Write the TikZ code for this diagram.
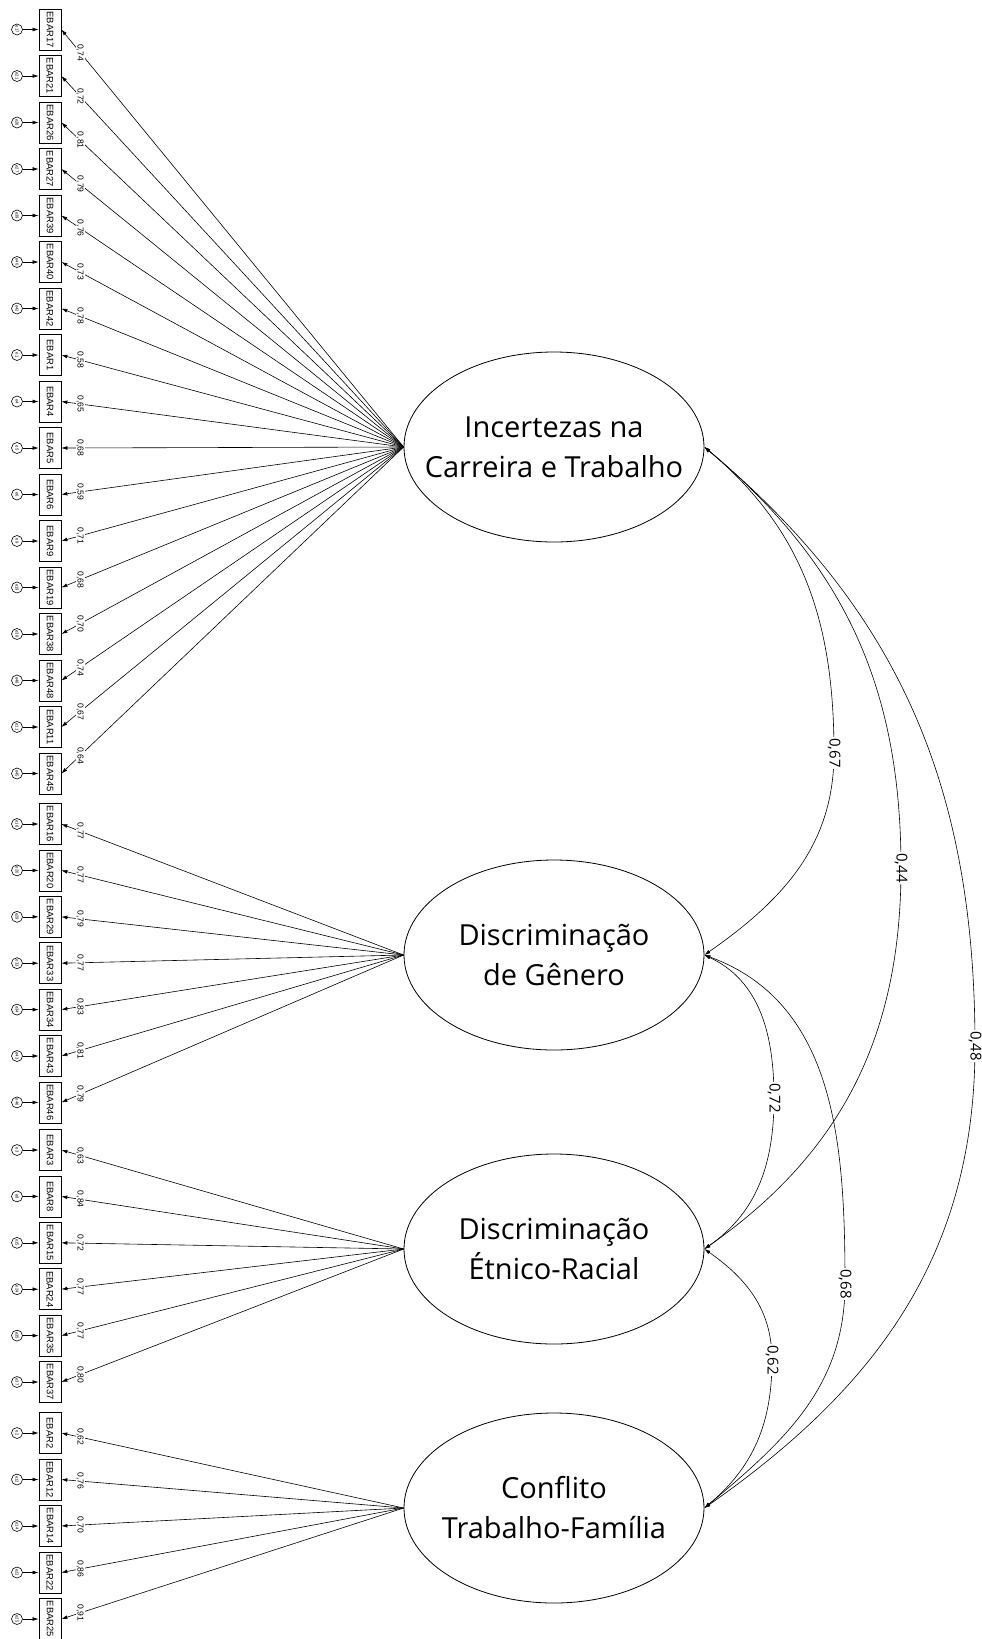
\documentclass[tikz,border=0pt]{standalone}
\usepackage{fontspec}
\setmainfont{Liberation Sans}
\newfontfamily\latfont{Open Sans}
\usetikzlibrary{shapes.geometric,arrows.meta}
\tikzset{
  lat/.style={draw,ellipse,line width=0.8pt,minimum width=300pt,minimum height=190pt,
    inner xsep=-25pt,inner ysep=0pt,align=center,font=\latfont\fontsize{29}{40}\selectfont},
  ind/.style={draw,rectangle,line width=0.7pt,minimum width=22pt,minimum height=41pt,
    inner sep=0pt,font=\fontsize{9.4}{10}\selectfont},
  err/.style={draw,circle,line width=0.6pt,minimum size=11pt,inner sep=0pt,
    font=\fontsize{4.2}{5}\selectfont},
  load/.style={fill=white,inner sep=1pt,font=\fontsize{8.6}{9}\selectfont},
  cor/.style={fill=white,inner sep=1.5pt,font=\latfont\fontsize{15}{16}\selectfont},
}
\begin{document}
\begin{tikzpicture}[x=1pt,y=-1pt,>={Latex[length=6pt,width=3.8pt]},line width=0.6pt]
\useasboundingbox (0,0) rectangle (982,1639);
% latent factors
\node[lat] (inc) at (554,447) {Incertezas na\\Carreira e Trabalho};
\node[lat] (gen) at (554,955) {Discriminação\\de Gênero};
\node[lat] (etn) at (554,1249) {Discriminação\\Étnico-Racial};
\node[lat] (cfl) at (554,1508) {Conflito\\Trabalho-Família};
% indicators of each factor
\foreach \k/\v [count=\i from 0] in {17/74,21/72,26/81,27/79,39/76,40/73,42/78,1/58,4/65,
    5/68,6/59,9/71,19/68,38/70,48/74,11/67,45/64} {
  \node[ind] (b\k) at (50,29.5+46.5*\i) {\rotatebox{-90}{EBAR\k}};
  \node[err] (e\k) at (17,29.5+46.5*\i) {\rotatebox{-90}{e\k}};
  \draw[->] (e\k) -- (b\k);
  \draw[->] (inc.west) -- node[load,pos=0.945] {\rotatebox{-90}{0,\v}} (b\k.east);
}
\foreach \k/\v [count=\i from 0] in {16/77,20/77,29/79,33/77,34/83,43/81,46/79} {
  \node[ind] (b\k) at (50,824+46.4*\i) {\rotatebox{-90}{EBAR\k}};
  \node[err] (e\k) at (17,824+46.4*\i) {\rotatebox{-90}{e\k}};
  \draw[->] (e\k) -- (b\k);
  \draw[->] (gen.west) -- node[load,pos=0.945] {\rotatebox{-90}{0,\v}} (b\k.east);
}
\foreach \k/\v [count=\i from 0] in {3/63,8/84,15/72,24/77,35/77,37/80} {
  \node[ind] (b\k) at (50,1150+46.4*\i) {\rotatebox{-90}{EBAR\k}};
  \node[err] (e\k) at (17,1150+46.4*\i) {\rotatebox{-90}{e\k}};
  \draw[->] (e\k) -- (b\k);
  \draw[->] (etn.west) -- node[load,pos=0.945] {\rotatebox{-90}{0,\v}} (b\k.east);
}
\foreach \k/\v [count=\i from 0] in {2/62,12/76,14/70,22/86,25/91} {
  \node[ind] (b\k) at (50,1433+46.5*\i) {\rotatebox{-90}{EBAR\k}};
  \node[err] (e\k) at (17,1433+46.5*\i) {\rotatebox{-90}{e\k}};
  \draw[->] (e\k) -- (b\k);
  \draw[->] (cfl.west) -- node[load,pos=0.945] {\rotatebox{-90}{0,\v}} (b\k.east);
}
% correlations between factors
\draw[<->] (inc.east) to[out=-40,in=90] (834,753) node[cor] {\rotatebox{-90}{0,67}}
  to[out=-90,in=35] (gen.east);
\draw[<->] (inc.east) to[out=-40,in=90] (901,868) node[cor] {\rotatebox{-90}{0,44}}
  to[out=-90,in=35] (etn.east);
\draw[<->] (inc.east) to[out=-40,in=90] (975,1046) node[cor] {\rotatebox{-90}{0,48}}
  to[out=-90,in=35] (cfl.east);
\draw[<->] (gen.east) to[out=-25,in=90] (774,1098) node[cor] {\rotatebox{-90}{0,72}}
  to[out=-90,in=35] (etn.east);
\draw[<->] (gen.east) to[out=-20,in=90] (845,1284) node[cor] {\rotatebox{-90}{0,68}}
  to[out=-90,in=40] (cfl.east);
\draw[<->] (etn.east) to[out=-35,in=90] (772,1360) node[cor] {\rotatebox{-90}{0,62}}
  to[out=-90,in=40] (cfl.east);
\end{tikzpicture}
\end{document}
